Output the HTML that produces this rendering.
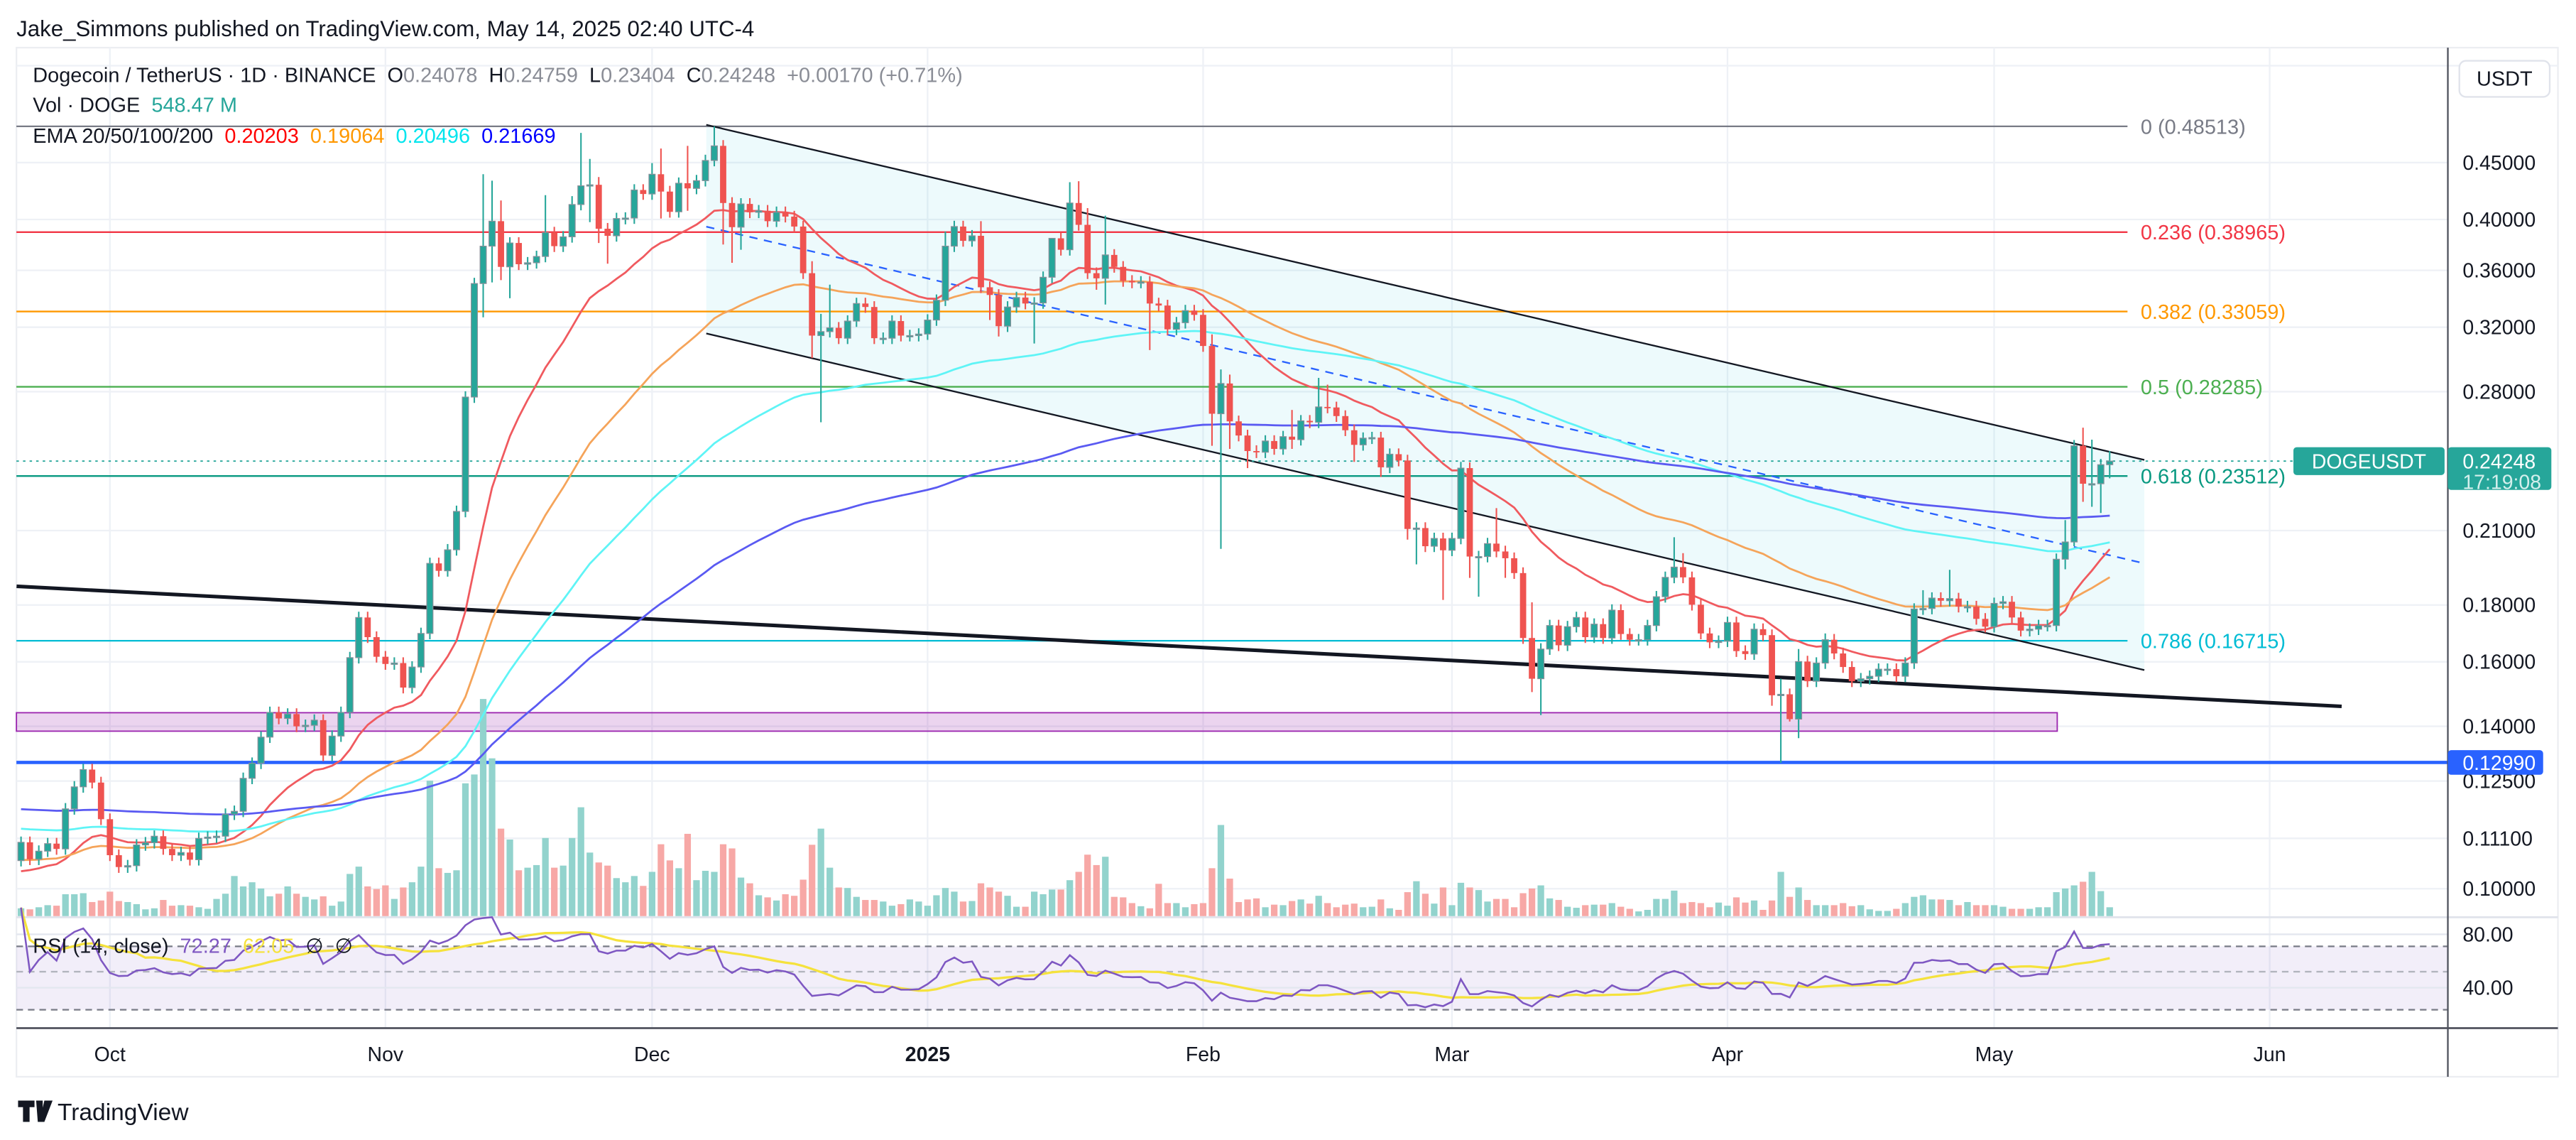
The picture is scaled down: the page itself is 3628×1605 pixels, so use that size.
<!DOCTYPE html>
<html><head><meta charset="utf-8"><style>
html,body{margin:0;padding:0;background:#fff}
svg{display:block}
text{font-family:"Liberation Sans","DejaVu Sans",sans-serif;white-space:pre}
</style></head><body>
<svg id="chart" xmlns="http://www.w3.org/2000/svg" xml:space="preserve" width="3628" height="1605" viewBox="0 0 1568 694" preserveAspectRatio="none">
<rect x="0" y="0" width="1568" height="694" fill="#ffffff"/>
<text x="10" y="22" font-size="13.5" fill="#131722">Jake_Simmons published on TradingView.com, May 14, 2025 02:40 UTC-4</text>
<rect x="10" y="29" width="1547" height="626.5" fill="none" stroke="#eceef2" stroke-width="1"/>
<g id="grid"></g>
<g id="drawings"></g>
<g id="volume"></g>
<g id="emas"></g>
<g id="candles"></g>
<g id="rsi"></g>
<g id="axes"></g>
<g>
<text x="20" y="50" font-size="12.5" fill="#131722">Dogecoin / TetherUS · 1D · BINANCE  O<tspan fill="#8a8d96">0.24078</tspan>  H<tspan fill="#8a8d96">0.24759</tspan>  L<tspan fill="#8a8d96">0.23404</tspan>  C<tspan fill="#8a8d96">0.24248  +0.00170 (+0.71%)</tspan></text>
<text x="20" y="68" font-size="12.5" fill="#131722">Vol · DOGE  <tspan fill="#26a69a">548.47 M</tspan></text>
<text x="20" y="87" font-size="12.5" fill="#131722">EMA 20/50/100/200  <tspan fill="#ff0000">0.20203</tspan>  <tspan fill="#ff9800">0.19064</tspan>  <tspan fill="#00e5ee">0.20496</tspan>  <tspan fill="#0000ff">0.21669</tspan></text>
<text x="20" y="580" font-size="12.5" fill="#131722">RSI (14, close)  <tspan fill="#7e57c2">72.27</tspan>  <tspan fill="#f5e23c">62.05</tspan>  ∅  ∅</text>
</g>
<g>
<rect x="1497" y="37" width="55" height="22" rx="4" fill="#fff" stroke="#e0e3eb"/>
<text x="1524.5" y="52" font-size="12.5" text-anchor="middle" fill="#131722">USDT</text>
</g>
<g>
<path d="M11 670h10v4h-3v9h-4v-9h-3z M22 670h4v13h-3z M27 670h5l-5 13h-3z" fill="#131722"/>
<text x="35" y="682" font-size="14.5" fill="#131722">TradingView</text>
</g>
</svg>
<script>
// ---------- data ----------
const closes = [0.1101,0.1063,0.1081,0.1098,0.1086,0.1180,0.1235,0.1280,0.1246,0.1155,
0.1072,0.1046,0.1049,0.1095,0.1100,0.1115,0.1086,0.1072,0.1078,0.1062,
0.1110,0.1113,0.1115,0.1167,0.1174,0.1257,0.1297,0.1369,0.1441,0.1423,
0.1436,0.1400,0.1403,0.1418,0.1318,0.1372,0.1441,0.1614,0.1754,0.1684,
0.1617,0.1593,0.1596,0.1517,0.1583,0.1697,0.1962,0.1932,0.2018,0.2185,
0.2769,0.3503,0.3785,0.3986,0.3626,0.3810,0.3646,0.3657,0.3705,0.3893,
0.3785,0.3859,0.4126,0.4289,0.4298,0.3924,0.3867,0.4008,0.4012,0.4252,
0.4217,0.4393,0.4238,0.4064,0.4312,0.4266,0.4335,0.4520,0.4659,0.4139,
0.3937,0.4131,0.4060,0.4073,0.3986,0.4060,0.4024,0.3942,0.3579,0.3145,
0.3171,0.3196,0.3128,0.3241,0.3361,0.3337,0.3128,0.3128,0.3241,0.3145,
0.3145,0.3155,0.3248,0.3384,0.3785,0.3942,0.3827,0.3867,0.3476,0.3421,
0.3207,0.3337,0.3403,0.3361,0.3365,0.3549,0.3847,0.3757,0.4139,0.3956,
0.3579,0.3541,0.3717,0.3626,0.3522,0.3511,0.3515,0.3361,0.3347,0.3186,
0.3230,0.3312,0.3283,0.3078,0.2675,0.2848,0.2633,0.2557,0.2476,0.2470,
0.2528,0.2487,0.2551,0.2535,0.2636,0.2628,0.2713,0.2710,0.2662,0.2585,
0.2508,0.2543,0.2546,0.2394,0.2460,0.2428,0.2107,0.2111,0.2033,0.2066,
0.2016,0.2066,0.2390,0.1990,0.1990,0.2044,0.2011,0.1983,0.1923,0.1681,
0.1545,0.1643,0.1725,0.1656,0.1721,0.1754,0.1684,0.1730,0.1681,0.1781,
0.1695,0.1675,0.1675,0.1725,0.1831,0.1906,0.1947,0.1906,0.1801,0.1697,
0.1666,0.1670,0.1736,0.1636,0.1626,0.1712,0.1691,0.1493,0.1496,0.1421,
0.1601,0.1537,0.1596,0.1675,0.1628,0.1583,0.1537,0.1545,0.1553,0.1576,
0.1576,0.1553,0.1596,0.1785,0.1787,0.1826,0.1816,0.1824,0.1794,0.1794,
0.1749,0.1721,0.1806,0.1812,0.1754,0.1707,0.1712,0.1725,0.1725,0.1979,
0.2051,0.2503,0.2314,0.2314,0.2407,0.2425];
const firstOpen = 0.1060;
// notable wick highs/lows: [candle number (1-based), price]
const wickHighs = [[53,0.4393],[54,0.4335],[55,0.4161],[60,0.4207],[63,0.4198],[64,0.4786],[65,0.4535],[66,0.4368],[72,0.4496],[73,0.4633],[76,0.4659],[79,0.4851],[90,0.3669],[91,0.3290],[92,0.3495],[105,0.3901],[109,0.3986],[117,0.3618],[119,0.4321],[120,0.4330],[121,0.4095],[123,0.4032],[135,0.3153],[136,0.2932],[137,0.2901],[144,0.2696],[147,0.2881],[148,0.2841],[163,0.2421],[167,0.2200],[171,0.1810],[187,0.2071],[188,0.2004],[199,0.1545],[201,0.1643],[204,0.1697],[215,0.1856],[218,0.1936],[231,0.2146],[233,0.2599],[234,0.2535],[236,0.2476]];
const wickLows = [[53,0.3266],[54,0.3511],[55,0.3528],[56,0.3398],[65,0.3978],[66,0.3810],[67,0.3650],[73,0.4008],[76,0.4073],[80,0.3798],[81,0.3657],[82,0.3757],[90,0.3002],[91,0.2628],[110,0.3248],[111,0.3139],[115,0.3094],[122,0.3458],[123,0.3354],[128,0.3052],[135,0.2503],[136,0.2022],[137,0.2487],[139,0.2390],[144,0.2487],[151,0.2421],[154,0.2347],[157,0.2061],[158,0.1958],[161,0.1819],[164,0.1904],[165,0.1831],[168,0.1904],[171,0.1503],[172,0.1433],[198,0.1461],[199,0.1298],[200,0.1414],[201,0.1366],[231,0.1938],[232,0.2033],[233,0.2229],[234,0.2206],[235,0.2178],[236,0.2340]];
// relative volume (1 unit ≈ 32M DOGE)
const volumes = [15,13,17,21,20,42,42,44,27,30,47,29,27,23,13,15,31,20,21,20,
17,14,33,43,77,57,65,53,38,43,57,43,37,32,38,20,28,81,95,57,
52,59,33,55,65,95,260,92,83,88,255,272,417,303,168,147,88,93,98,150,
93,97,150,209,122,103,97,73,65,77,58,85,138,107,92,158,69,87,85,138,
130,74,63,40,36,30,42,39,70,137,168,93,55,54,37,31,31,28,20,23,
32,28,20,40,54,47,28,29,63,55,47,39,18,18,47,42,51,51,69,85,
118,98,114,37,36,25,19,15,62,25,25,17,23,25,92,175,72,27,32,34,
17,22,21,29,32,24,39,25,17,22,24,17,18,32,15,12,46,67,43,24,
55,21,64,55,50,28,33,33,17,44,53,59,34,31,18,16,21,22,22,
25,18,14,9,12,33,33,49,25,27,25,17,26,20,36,26,30,12,30,85,
37,55,31,21,21,21,25,19,21,13,10,10,14,25,37,40,32,32,31,21,
27,21,21,21,18,14,14,14,17,17,46,53,59,66,85,48,17];
const emaPeriods = [20,50,100,200];
const emaSeeds = [0.1030,0.1060,0.1133,0.1180];
const emaColors = ['#f05a5f','#f5a45a','#5ff4f6','#5a5af2'];
const priceTicks = [0.45,0.40,0.36,0.32,0.28,0.21,0.18,0.16,0.14,0.125,0.111,0.10];
const monthLabels = ['Oct','Nov','Dec','2025','Feb','Mar','Apr','May','Jun'];
const monthCandle = [10,41,71,102,133,161,192,222,253];
const fibRatios = ['0','0.236','0.382','0.5','0.618','0.786'];
const fibPrices = [0.48513,0.38965,0.33059,0.28285,0.23512,0.16715];
const fibColors = ['#787b86','#f23645','#ff9800','#4caf50','#089981','#00bcd4'];
const rsiTicks = [80,40];
const rsiBands = [71,52,23.5];
const lastPrice = 0.24248;
const supportPrice = 0.12990;

// ---------- scales ----------
const NS='http://www.w3.org/2000/svg';
const X0=12.8, DX=5.41;
const xOf = i => X0 + i*DX;
const yOf = p => 99 + (Math.log(0.45)-Math.log(p))*293.9;
const volY = v => 557.7 - v*0.317;
const rsiY = r => 568.8 + (80-r)*0.8125;
const PLOT_R = 1490;
function el(tag, attrs, parent){const e=document.createElementNS(NS,tag);for(const k in attrs)e.setAttribute(k,attrs[k]);parent.appendChild(e);return e;}
const gGrid=document.getElementById('grid'), gDraw=document.getElementById('drawings'),
 gVol=document.getElementById('volume'), gEma=document.getElementById('emas'),
 gC=document.getElementById('candles'), gR=document.getElementById('rsi'), gAx=document.getElementById('axes');

// ---------- grid ----------
priceTicks.forEach(p=>{
  const l=el('line',{x1:10,x2:PLOT_R,y1:yOf(p),y2:yOf(p),stroke:'#eef1f6','stroke-width':1},gGrid);
  
  
});
monthCandle.forEach(c=>{
  const l=el('line',{x1:xOf(c),x2:xOf(c),y1:29,y2:626,stroke:'#eef1f6','stroke-width':1},gGrid);
  
  
});
el('line',{x1:10,x2:1557,y1:40,y2:40,stroke:'#eef1f6'},gGrid);

// ---------- drawings ----------
const chIdx=[77.1,238.9];
const upper=[0.4866,0.2431], lower=[0.3159,0.1573], mid=[0.3941,0.1962];
const poly=el('polygon',{points:`${xOf(chIdx[0])},${yOf(upper[0])} ${xOf(chIdx[1])},${yOf(upper[1])} ${xOf(chIdx[1])},${yOf(lower[1])} ${xOf(chIdx[0])},${yOf(lower[0])}`,fill:'rgba(0,188,212,0.07)'},gDraw);


const box=el('rect',{x:10,y:yOf(0.1440),width:xOf(229.1)-10,height:yOf(0.1386)-yOf(0.1440),fill:'rgba(156,39,176,0.2)',stroke:'#9c27b0','stroke-width':0.8},gDraw);


fibPrices.forEach((p,k)=>{
  const l=el('line',{x1:10,x2:1295,y1:yOf(p),y2:yOf(p),stroke:fibColors[k],'stroke-width':1},gDraw);
  
  
  const t=el('text',{x:1303,y:yOf(p)+4.5,'font-size':12.5,fill:fibColors[k]},gDraw);
  
  
  t.textContent=fibRatios[k]+' ('+p.toFixed(5)+')';
});
const ul=el('line',{x1:xOf(chIdx[0]),y1:yOf(upper[0]),x2:xOf(chIdx[1]),y2:yOf(upper[1]),stroke:'#131722','stroke-width':1},gDraw);


const ll=el('line',{x1:xOf(chIdx[0]),y1:yOf(lower[0]),x2:xOf(chIdx[1]),y2:yOf(lower[1]),stroke:'#131722','stroke-width':1},gDraw);


const ml=el('line',{x1:xOf(chIdx[0]),y1:yOf(mid[0]),x2:xOf(chIdx[1]),y2:yOf(mid[1]),stroke:'#2962ff','stroke-width':1,'stroke-dasharray':'5 4'},gDraw);


const tl=el('line',{x1:xOf(-0.5),y1:yOf(0.1871),x2:xOf(261.1),y2:yOf(0.1459),stroke:'#131722','stroke-width':2.2},gDraw);


const sl=el('line',{x1:10,x2:PLOT_R,y1:yOf(supportPrice),y2:yOf(supportPrice),stroke:'#2962ff','stroke-width':2},gDraw);


const pl=el('line',{x1:10,x2:PLOT_R,y1:yOf(lastPrice),y2:yOf(lastPrice),stroke:'#26a69a','stroke-width':0.8,'stroke-dasharray':'1.5 2.5'},gDraw);



// ---------- candles & volume ----------
const hiMap={}, loMap={};
wickHighs.forEach(([i,p])=>hiMap[i-1]=p);
wickLows.forEach(([i,p])=>loMap[i-1]=p);
closes.forEach((c,i)=>{
  const o = i===0?firstOpen:closes[i-1];
  const up = c>=o;
  const h = hiMap[i]!==undefined?hiMap[i]:Math.max(o,c)*1.012;
  const l = loMap[i]!==undefined?loMap[i]:Math.min(o,c)*0.988;
  const x=xOf(i), col=up?'#26a69a':'#ef5350';
  const vb=el('rect',{x:x-2,y:volY(volumes[i]),width:4,height:volumes[i]*0.317,fill:up?'#92d3cd':'#f7a8a6'},gVol);
  
  
  const g=el('g',{},gC);
  
  
  el('line',{x1:x,x2:x,y1:yOf(h),y2:yOf(l),stroke:col,'stroke-width':0.9},g);
  const yt=yOf(Math.max(o,c)), yb=yOf(Math.min(o,c));
  el('rect',{x:x-1.9,y:yt,width:3.8,height:Math.max(0.8,yb-yt),fill:col,stroke:up?'#8a8f99':col,'stroke-width':up?0.5:0},g);
});

// ---------- EMAs ----------
emaPeriods.forEach((n,k)=>{
  const a=2/(n+1); let e=emaSeeds[k]; const pts=[];
  closes.forEach((c,i)=>{ e = a*c + (1-a)*e; pts.push(xOf(i).toFixed(1)+','+yOf(e).toFixed(1)); });
  const p=el('polyline',{points:pts.join(' '),fill:'none',stroke:emaColors[k],'stroke-width':1.2},gEma);
  
  
});

// ---------- RSI ----------
el('line',{x1:10,x2:1557,y1:558.4,y2:558.4,stroke:'#e0e3eb','stroke-width':1.2},gR);
const band=el('rect',{x:10,y:rsiY(rsiBands[0]),width:PLOT_R-10,height:rsiY(rsiBands[2])-rsiY(rsiBands[0]),fill:'rgba(126,87,194,0.1)'},gR);


rsiTicks.forEach(r=>el('line',{x1:10,x2:PLOT_R,y1:rsiY(r),y2:rsiY(r),stroke:'#e3e7ef'},gR));
rsiBands.forEach((r,k)=>el('line',{x1:10,x2:PLOT_R,y1:rsiY(r),y2:rsiY(r),stroke:k===1?'#b2b5be':'#787b86','stroke-width':1,'stroke-dasharray':'4 3'},gR));
(function(){
  const all=[firstOpen].concat(closes); let ag=0, al=0; const rsi=[];
  for(let i=1;i<all.length;i++){
    const d=all[i]-all[i-1], gn=Math.max(d,0), ls=Math.max(-d,0);
    if(i<=14){ag+=gn/14; al+=ls/14;} else {ag=(ag*13+gn)/14; al=(al*13+ls)/14;}
    rsi.push(al===0?100:100-100/(1+ag/al));
  }
  const pts=rsi.map((r,i)=>xOf(i).toFixed(1)+','+rsiY(r).toFixed(1));
  const ma=[]; rsi.forEach((r,i)=>{const s=rsi.slice(Math.max(0,i-13),i+1);ma.push(xOf(i).toFixed(1)+','+rsiY(s.reduce((a,b)=>a+b,0)/s.length).toFixed(1));});
  const m=el('polyline',{points:ma.join(' '),fill:'none',stroke:'#f5e23c','stroke-width':1.4},gR);
  
  
  const l=el('polyline',{points:pts.join(' '),fill:'none',stroke:'#7e57c2','stroke-width':1.1},gR);
  
  
})();

// ---------- axes ----------
el('line',{x1:PLOT_R,x2:PLOT_R,y1:29,y2:655.5,stroke:'#50535e','stroke-width':1},gAx);
el('line',{x1:10,x2:1557,y1:625.9,y2:625.9,stroke:'#50535e','stroke-width':1.2},gAx);
priceTicks.forEach(p=>{
  const t=el('text',{x:1499,y:yOf(p)+4.3,'font-size':12.3,fill:'#131722'},gAx);
  
  
  t.textContent=p.toFixed(5);
});
rsiTicks.forEach(r=>{
  const t=el('text',{x:1499,y:rsiY(r)+4.3,'font-size':12.3,fill:'#131722'},gAx);
  
  
  t.textContent=r.toFixed(2);
});
monthLabels.forEach((m,k)=>{
  const t=el('text',{x:xOf(monthCandle[k]),y:646,'font-size':12.3,'text-anchor':'middle',fill:'#131722','font-weight':m==='2025'?'bold':'normal'},gAx);
  
  
  t.textContent=m;
});
const yl=yOf(lastPrice);
const sym=el('g',{},gAx);


el('rect',{x:1396,y:yl-8.5,width:92,height:17,rx:2,fill:'#26a69a'},sym);
el('text',{x:1442,y:yl+4.5,'font-size':12.3,'text-anchor':'middle',fill:'#fff'},sym).textContent='DOGEUSDT';
const pt=el('g',{},gAx);


el('rect',{x:1490,y:yl-8.5,width:63,height:26,rx:2,fill:'#26a69a'},pt);
el('text',{x:1499,y:yl+4.5,'font-size':12.3,fill:'#fff'},pt).textContent=lastPrice.toFixed(5);
el('text',{x:1499,y:yl+17,'font-size':12.3,fill:'#d4efec'},pt).textContent='17:19:08';
const ys=yOf(supportPrice);
const st=el('g',{},gAx);


el('rect',{x:1490,y:ys-7.5,width:58,height:15,rx:2,fill:'#2962ff'},st);
el('text',{x:1499,y:ys+4.5,'font-size':12.3,fill:'#fff'},st).textContent=supportPrice.toFixed(5);
</script>
</body></html>
